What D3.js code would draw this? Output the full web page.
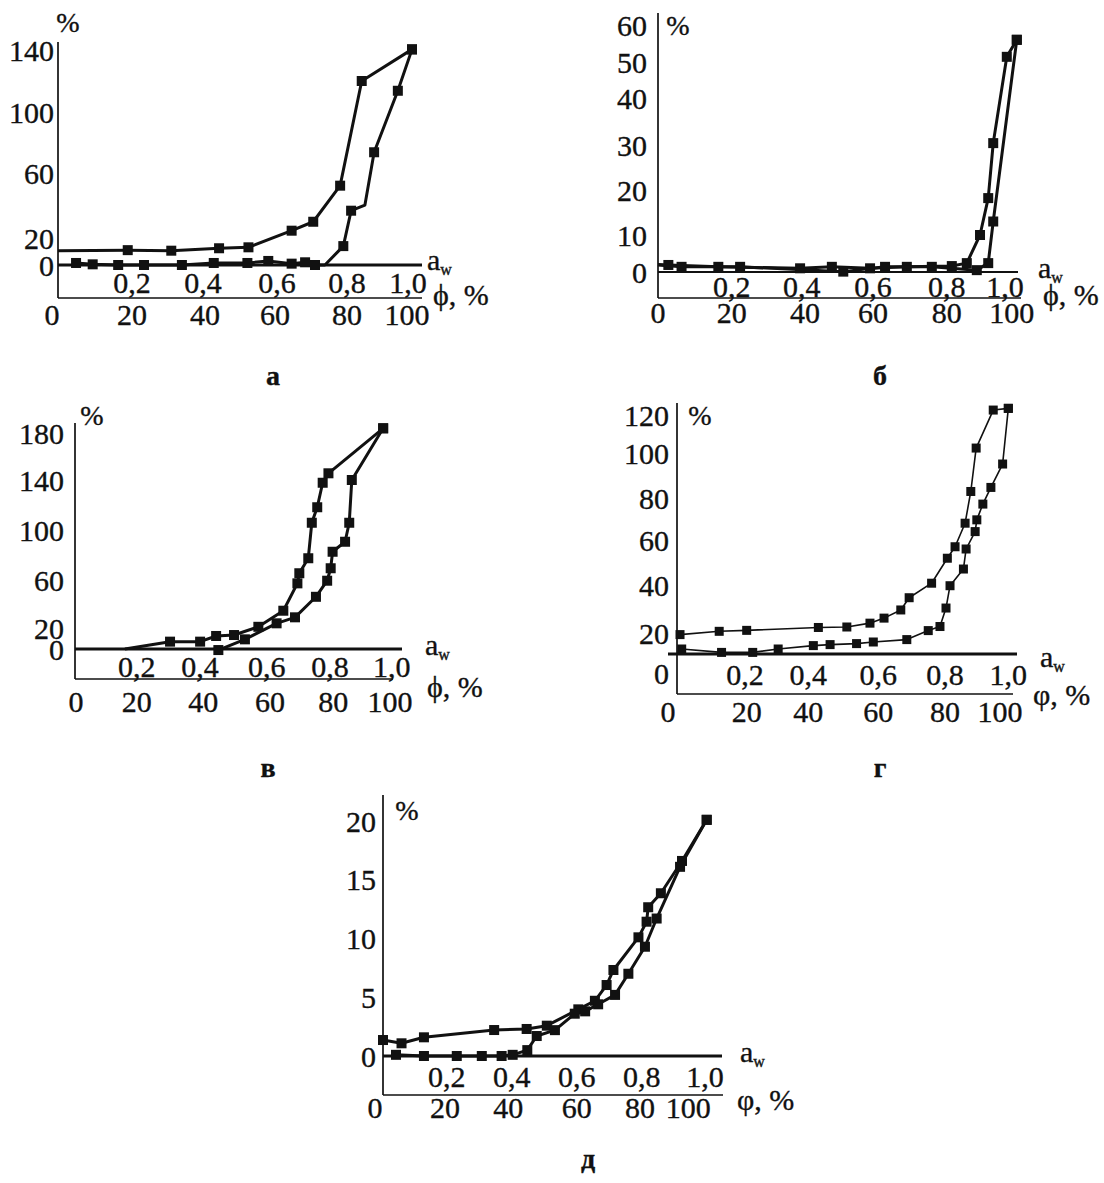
<!DOCTYPE html>
<html><head><meta charset="utf-8">
<script src="https://cdn.jsdelivr.net/npm/d3@7"></script>
<style>
body{margin:0;background:#fff}
svg{display:block}
text{font-family:"Liberation Serif","Times New Roman",serif;fill:#111;stroke:#111;stroke-width:0.35px}
</style>
</head><body>
<svg id="c" width="1104" height="1183"></svg>
<script>
// ---------- shared tick labels ----------
const awTickLabels = ["0,2","0,4","0,6","0,8","1,0"];
const awTickValues = [20,40,60,80,100];
const phiTickValues = [0,20,40,60,80,100];

// ---------- panel а ----------
const aYTicks = [0,20,60,100,140];
const aUpperPhi = [0,19.7,32,45.5,53.8,66,72.1,79.7,85.8,100];
const aUpperVal = [10.6,11,10.6,12.4,13.1,24.5,30,52.2,120,140.4];
const aLowerPhi = [5.1,9.8,17,24.3,35,44,53.5,59.4,66,69.8,72.6,75.4,80.6,82.8,86.7,89.3,96,100];
const aLowerVal = [1.5,0.5,0,0,0,1.5,1.5,3,1,2,0,0,14,36.8,40.3,73.6,113.7,140.4];

// ---------- panel б ----------
const bYTicks = [0,10,20,30,40,50,60];
const bUpperPhi = [0,2.9,16.9,39.8,48.7,59.4,69.7,82.3,86.5,90.2,92.5,93.9,97.7,100.5];
const bUpperVal = [2.0,1.9,1.4,1.0,1.4,1.0,1.4,1.6,2.4,10,18.2,30.4,51.4,56];
const bLowerPhi = [100.5,93.9,92.5,89.3,76.7,63.6,51.9,23,6.6,0];
const bLowerVal = [56,13,2.4,0.5,1.4,1.4,0.1,1.4,1.4,1.9];

// ---------- panel в ----------
const vYTicks = [0,20,60,100,140,180];
const vUpperPhi = [15.6,29.7,39.1,44.1,49.7,57.3,65.1,69.5,70.1,72.9,74,75.7,77.4,79.2,96.3];
const vUpperVal = [0,7,7,12.4,13.3,21,34.4,57.2,65.4,77.4,105.8,118.2,137.8,145.7,184];
const vLowerPhi = [96.3,86.5,85.7,84.4,80.5,79.9,78.8,75.3,68.75,63,53.1,44.8];
const vLowerVal = [184,140,105.8,90.6,82.6,69.4,59.4,46,28.9,23.9,9.2,-1];

// ---------- panel г ----------
const gYTicks = [0,20,40,60,80,100,120];
const gUpperPhi = [0.9,12.6,20.8,42.2,50.7,57.6,61.8,66.8,69.3,76,80.7,83,86,87.7,89.3,94.4,98.9];
const gUpperVal = [19.2,20.7,21.1,22.3,22.5,24.1,26.2,29.6,34.7,40.8,51.9,57,68,82.9,102.6,122.6,123.5];
const gLowerPhi = [1.4,13.3,22.6,30.2,40.7,45.7,53.6,58.6,68.6,75,78.5,80.3,81.5,85.5,86.3,89,89.5,91.3,93.7,97.2,98.9];
const gLowerVal = [12,10.3,10.3,12,13.7,14.2,14.7,15.5,16.7,21,22.7,30.4,39.7,47.1,56,64,69.6,77.1,84.7,95.1,123.5];

// ---------- panel д ----------
const dYTicks = [0,5,10,15,20];
const dUpperPhi = [0,5.7,12.6,34.2,44.2,50.4,60.1,65.2,68.8,70.9,78.6,81.1,81.6,85.5,92,99.6];
const dUpperVal = [1.36,1.08,1.59,2.21,2.3,2.58,3.97,4.7,6.04,7.32,10.1,11.43,12.66,13.85,16.6,20.1];
const dLowerPhi = [4,12.6,22.7,30.4,36.5,39.9,44.4,47.3,52.9,59,62.2,66.2,71.4,75.5,80.6,84.2,91.4,99.6];
const dLowerVal = [0.1,0,0,0,0,0.1,0.5,1.7,2.2,3.6,3.8,4.4,5.2,7.0,9.3,11.7,16.1,20.1];

// ---------- layout ----------
const panels = [
 {letter:"а", letterPos:[273,385], axisX:58, axisTop:42, phiLineY:298, awLeft:58, awRight:422, phiRight:422,
  xRange:[58,412], yTicks:aYTicks, yRange:[265,238,173,112,50], awLevel:0,
  phiLabelRange:[52,132,205,275,347,407], awLabelRange:[132,203,277,347,408],
  awLabelY:293, phiLabelY:325, yGap:4, pct:[68,22], awTitle:[427,270], phiTitle:[433,305], phiGlyph:"ϕ",
  lw:3, ms:10, awW:3,
  curves:[{phi:aUpperPhi,val:aUpperVal,bare:[0]},{phi:aLowerPhi,val:aLowerVal,bare:[11,14]}]},
 {letter:"б", letterPos:[880,385], axisX:658, axisTop:13, phiLineY:298, awLeft:658, awRight:1018, phiRight:1021,
  xRange:[658,1015], yTicks:bYTicks, yRange:[272,235,190,145,98,62,25], awLevel:0,
  phiLabelRange:[658,731.7,805,873,946.7,1011.7], awLabelRange:[731.7,801.7,873,946.7,1005],
  awLabelY:297, phiLabelY:323, yGap:11, pct:[678,25], awTitle:[1038,278], phiTitle:[1043,305], phiGlyph:"ϕ",
  lw:3, ms:10, awW:1.8,
  curves:[{phi:bUpperPhi,val:bUpperVal,bare:[0]},{phi:bLowerPhi,val:bLowerVal,bare:[9]}]},
 {letter:"в", letterPos:[268,777], axisX:75, axisTop:423, phiLineY:679, awLeft:75, awRight:402, phiRight:393,
  xRange:[75,395], yTicks:vYTicks, yRange:[649,628,580,530,480,433], awLevel:0,
  phiLabelRange:[76,136.7,203.3,270,333.3,390], awLabelRange:[136.7,200,266.7,330,391.7],
  awLabelY:677, phiLabelY:712, yGap:11, pct:[92,415], awTitle:[425,655], phiTitle:[427,697], phiGlyph:"ϕ",
  lw:3, ms:10, awW:3,
  curves:[{phi:vUpperPhi,val:vUpperVal,bare:[0]},{phi:vLowerPhi,val:vLowerVal,bare:[]}]},
 {letter:"г", letterPos:[880,777], axisX:677, axisTop:403, phiLineY:694, awLeft:668, awRight:1017, phiRight:1013,
  xRange:[677,1012], yTicks:gYTicks, yRange:[673,633,585,540,498,453,415], awLevel:9.5,
  phiLabelRange:[668,746.7,808.3,878.3,945,1000], awLabelRange:[745,808.3,878.3,945,1008.3],
  awLabelY:685, phiLabelY:722, yGap:8, pct:[700,415], awTitle:[1040,667], phiTitle:[1033,705], phiGlyph:"φ",
  lw:1.6, ms:9, awW:3,
  curves:[{phi:gUpperPhi,val:gUpperVal,bare:[]},{phi:gLowerPhi,val:gLowerVal,bare:[]}]},
 {letter:"д", letterPos:[588,1168], axisX:383, axisTop:795, phiLineY:1095, awLeft:383, awRight:722, phiRight:723,
  xRange:[383,708], yTicks:dYTicks, yRange:[1056,821], awLevel:0,
  phiLabelRange:[375,445,508.3,576.7,640,688.3], awLabelRange:[446.7,511.7,576.7,641.7,705],
  awLabelY:1087, phiLabelY:1118, yGap:7, pct:[407,810], awTitle:[740,1062], phiTitle:[737,1110], phiGlyph:"φ",
  lw:3, ms:10, awW:3,
  curves:[{phi:dUpperPhi,val:dUpperVal,bare:[]},{phi:dLowerPhi,val:dLowerVal,bare:[]}]}
];

const svg = d3.select("#c");
const INK = "#111";
const FS = 30;

panels.forEach(p => {
  const g = svg.append("g");
  const x = d3.scaleLinear().domain([0,100]).range(p.xRange);
  const yDom = p.yTicks.length === p.yRange.length ? p.yTicks : [p.yTicks[0], p.yTicks[p.yTicks.length-1]];
  const y = d3.scaleLinear().domain(yDom).range(p.yRange);
  const phiPos = d3.scaleLinear().domain(phiTickValues).range(p.phiLabelRange);
  const awPos = d3.scaleLinear().domain(awTickValues).range(p.awLabelRange);

  // axes lines
  g.append("line").attr("x1",p.axisX).attr("x2",p.axisX).attr("y1",p.axisTop).attr("y2",p.phiLineY)
    .attr("stroke",INK).attr("stroke-width",1.7);
  g.append("line").attr("x1",p.axisX).attr("x2",p.phiRight).attr("y1",p.phiLineY).attr("y2",p.phiLineY)
    .attr("stroke",INK).attr("stroke-width",1.7);
  g.append("line").attr("x1",p.awLeft).attr("x2",p.awRight).attr("y1",y(p.awLevel)).attr("y2",y(p.awLevel))
    .attr("stroke",INK).attr("stroke-width",p.awW);

  // y tick labels
  g.selectAll(".yt").data(p.yTicks).enter().append("text")
    .attr("x",p.axisX - p.yGap).attr("y",d=>y(d)).attr("dy","0.35em")
    .attr("text-anchor","end").attr("font-size",FS).text(d=>d);

  // aw tick labels
  g.selectAll(".awt").data(awTickValues).enter().append("text")
    .attr("x",d=>awPos(d)).attr("y",p.awLabelY).attr("text-anchor","middle")
    .attr("font-size",FS).text((d,i)=>awTickLabels[i]);

  // phi tick labels
  g.selectAll(".pt").data(phiTickValues).enter().append("text")
    .attr("x",d=>phiPos(d)).attr("y",p.phiLabelY).attr("text-anchor","middle")
    .attr("font-size",FS).text(d=>d);

  // % label
  g.append("text").attr("x",p.pct[0]).attr("y",p.pct[1]).attr("dy","0.35em")
    .attr("text-anchor","middle").attr("font-size",FS-2).text("%");

  // a_w title
  const aw = g.append("text").attr("x",p.awTitle[0]).attr("y",p.awTitle[1]).attr("font-size",FS);
  aw.append("tspan").text("a");
  aw.append("tspan").attr("font-size",16).attr("dy",5).text("w");

  // phi title
  g.append("text").attr("x",p.phiTitle[0]).attr("y",p.phiTitle[1]).attr("font-size",FS)
    .text(p.phiGlyph + ", %");

  // panel letter
  g.append("text").attr("x",p.letterPos[0]).attr("y",p.letterPos[1]).attr("text-anchor","middle")
    .attr("font-size",28).attr("font-weight","bold").text(p.letter);

  // curves
  const line = d3.line().x(d=>x(d[0])).y(d=>y(d[1]));
  p.curves.forEach(c => {
    const pts = c.phi.map((v,i)=>[v,c.val[i]]);
    g.append("path").attr("d",line(pts)).attr("fill","none").attr("stroke",INK)
      .attr("stroke-width",p.lw).attr("stroke-linejoin","round");
    g.selectAll(null).data(pts.filter((d,i)=>!c.bare.includes(i))).enter().append("rect")
      .attr("x",d=>x(d[0]) - p.ms/2).attr("y",d=>y(d[1]) - p.ms/2)
      .attr("width",p.ms).attr("height",p.ms).attr("fill",INK);
  });
});
</script>
</body></html>
